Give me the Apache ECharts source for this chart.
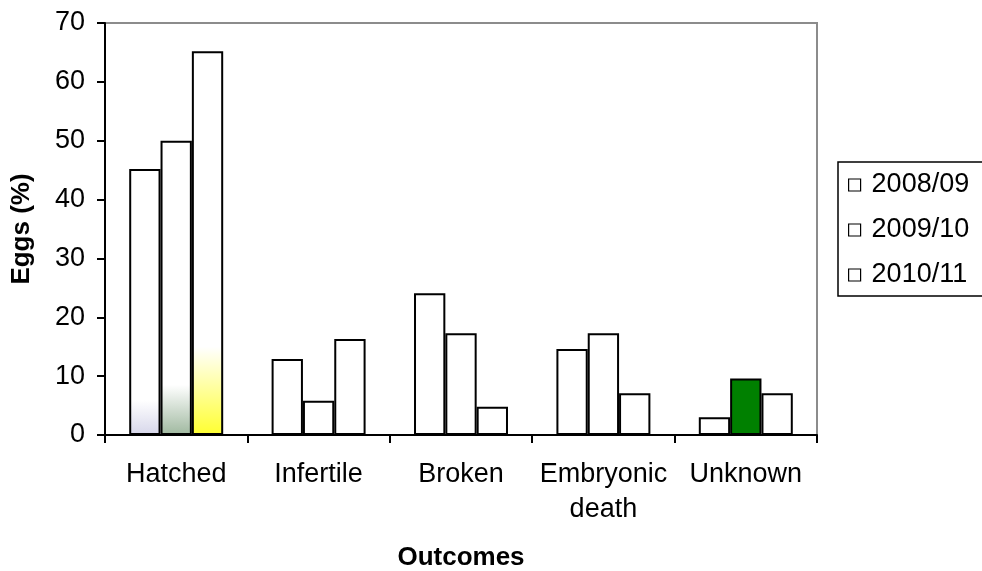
<!DOCTYPE html>
<html>
<head>
<meta charset="utf-8">
<script src="https://cdn.jsdelivr.net/npm/echarts@6/dist/echarts.min.js"></script>
<style>
  html, body { margin: 0; padding: 0; background: #ffffff; }
  #chart { width: 982px; height: 571px; }
</style>
</head>
<body>
<div id="chart"></div>
<script>
// Egg outcomes by breeding season (percent of eggs)
const categories = ['Hatched', 'Infertile', 'Broken', 'Embryonic\ndeath', 'Unknown'];
const seasons = ['2008/09', '2009/10', '2010/11'];
const s2008 = [45.2, 12.9, 24.1, 14.6, 3.0];
const s2009 = [50.0, 5.8, 17.3, 17.3, 9.6];
const s2010 = [65.2, 16.3, 4.8, 7.1, 7.1];
const yTicks = { min: 0, max: 70, interval: 10 };

const FONT = 'Liberation Sans, Arial, sans-serif';

// Soft fade at the foot of a bar: white above, tint near the axis
function fade(startOffset, tint) {
  return new echarts.graphic.LinearGradient(0, 0, 0, 1, [
    { offset: 0, color: '#ffffff' },
    { offset: startOffset, color: '#ffffff' },
    { offset: 1, color: tint }
  ]);
}

const plainStyle = { color: '#ffffff', borderColor: '#000000', borderWidth: 2 };

// Special fills for individual bars: [series index][category index]
const specialFill = {
  0: { 0: fade(0.87, '#d6d6ea') },
  1: { 0: fade(0.83, '#9fb89f'), 4: '#008000' },
  2: { 0: fade(0.77, '#ffff30') }
};

function buildData(values, si) {
  return values.map((v, ci) => {
    const fill = specialFill[si] && specialFill[si][ci];
    return fill ? { value: v, itemStyle: { color: fill } } : v;
  });
}

const seriesValues = [s2008, s2009, s2010];

const chart = echarts.init(document.getElementById('chart'), null, { renderer: 'canvas' });
chart.setOption({
  animation: false,
  backgroundColor: '#ffffff',
  grid: {
    left: 105, right: 165, top: 23, bottom: 136,
    outerBoundsMode: 'none',
    containLabel: false,
    show: true, borderColor: '#8c8c8c', borderWidth: 2, backgroundColor: 'transparent'
  },
  legend: {
    orient: 'vertical',
    left: 838, top: 162,
    data: seasons.map(name => ({ name, icon: 'rect' })),
    itemWidth: 12, itemHeight: 12, itemGap: 15,
    padding: [8, 40, 6, 10],
    borderColor: '#000000', borderWidth: 1.5,
    textStyle: { fontFamily: FONT, fontSize: 27, color: '#000000', lineHeight: 30, padding: [0, 0, 0, 6] },
    itemStyle: { color: '#ffffff', borderColor: '#000000', borderWidth: 1.2 }
  },
  xAxis: {
    type: 'category',
    data: categories,
    name: 'Outcomes',
    nameLocation: 'middle',
    nameGap: 110,
    nameTextStyle: { fontFamily: FONT, fontSize: 26, fontWeight: 'bold', color: '#000000' },
    axisLine: { lineStyle: { color: '#000000', width: 2 } },
    axisTick: { show: true, length: 8, lineStyle: { color: '#000000', width: 2 } },
    axisLabel: { fontFamily: FONT, fontSize: 27, color: '#000000', margin: 22, lineHeight: 35, interval: 0 }
  },
  yAxis: {
    type: 'value',
    min: yTicks.min, max: yTicks.max, interval: yTicks.interval,
    name: 'Eggs (%)',
    nameLocation: 'middle',
    nameGap: 70,
    nameTextStyle: { fontFamily: FONT, fontSize: 26, fontWeight: 'bold', color: '#000000' },
    splitLine: { show: false },
    axisLine: { show: true, lineStyle: { color: '#000000', width: 2 } },
    axisTick: { show: true, length: 8, lineStyle: { color: '#000000', width: 2 } },
    axisLabel: { fontFamily: FONT, fontSize: 27, color: '#000000', margin: 20 }
  },
  series: seasons.map((name, si) => ({
    name,
    type: 'bar',
    data: buildData(seriesValues[si], si),
    barGap: '0%',
    barCategoryGap: '34%',
    itemStyle: plainStyle,
    emphasis: { disabled: true }
  }))
});
</script>
</body>
</html>
